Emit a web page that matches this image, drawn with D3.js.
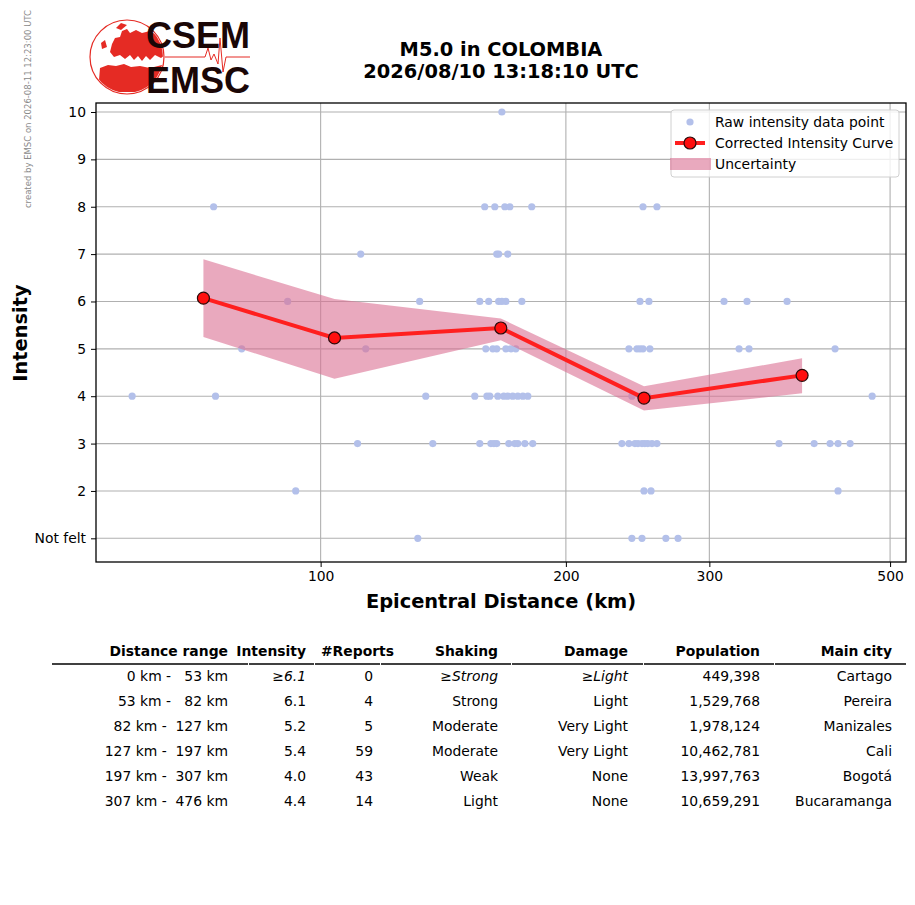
<!DOCTYPE html>
<html>
<head>
<meta charset="utf-8">
<script src="https://cdn.jsdelivr.net/npm/d3@7"></script>
<style>
  body { margin: 0; background: #fff; }
  text { font-family: "DejaVu Sans", sans-serif; }
</style>
</head>
<body>
<div class="container"></div>
<script>
// raw felt reports: distance (km) and intensity (1 = not felt)
const rawDistance = [
  166.9,
  73.9, 159.0, 163.6, 168.3, 170.7, 181.6, 248.7, 258.7,
  112.0, 164.5, 165.4, 169.7,
  91.1, 132.3, 156.8, 160.8, 165.4, 166.9, 168.8, 176.6, 246.6, 252.9, 312.7, 333.7, 373.7,
  80.0, 113.6, 159.5, 162.7, 164.5, 168.8, 171.2, 173.6, 239.0, 244.5, 246.6, 248.7, 253.6, 326.3, 335.6, 428.0,
  58.7, 74.3, 134.6, 154.6, 160.0, 161.3, 165.0, 167.8, 169.7, 172.1, 174.6, 177.1, 179.6, 241.0, 246.6, 252.1, 475.3,
  111.0, 137.3, 156.8, 161.8, 163.2, 164.5, 170.2, 173.1, 174.6, 178.1, 182.1, 234.3, 239.0, 243.1, 245.2, 248.0, 250.0, 252.1, 255.1, 258.7, 365.3, 403.4, 422.0, 431.6, 446.6,
  93.2, 249.4, 254.4, 431.6,
  131.6, 241.0, 248.0, 265.3, 274.6
]
const rawIntensity = [
  10,
  8, 8, 8, 8, 8, 8, 8, 8,
  7, 7, 7, 7,
  6, 6, 6, 6, 6, 6, 6, 6, 6, 6, 6, 6, 6,
  5, 5, 5, 5, 5, 5, 5, 5, 5, 5, 5, 5, 5, 5, 5, 5,
  4, 4, 4, 4, 4, 4, 4, 4, 4, 4, 4, 4, 4, 4, 4, 4, 4,
  3, 3, 3, 3, 3, 3, 3, 3, 3, 3, 3, 3, 3, 3, 3, 3, 3, 3, 3, 3, 3, 3, 3, 3, 3,
  2, 2, 2, 2,
  1, 1, 1, 1, 1
]

// corrected curve and its uncertainty band
const curveDistance = [71.8, 104.0, 166.4, 249.4, 389.9]
const curveIntensity = [6.07, 5.23, 5.44, 3.96, 4.44]
const curveUpper = [6.89, 6.05, 5.64, 4.21, 4.80]
const curveLower = [5.25, 4.37, 5.18, 3.70, 4.06]

const xTicks = [100, 200, 300, 500]
const yTicks = [1, 2, 3, 4, 5, 6, 7, 8, 9, 10]
const yTickLabels = ['Not felt', '2', '3', '4', '5', '6', '7', '8', '9', '10']

// summary table
const tableHeaders = ['Distance range', 'Intensity', '#Reports', 'Shaking', 'Damage', 'Population', 'Main city']
const distanceRanges = ['0 km -   53 km', '53 km -   82 km', '82 km -  127 km', '127 km -  197 km', '197 km -  307 km', '307 km -  476 km']
const intensities = ['≥6.1', '6.1', '5.2', '5.4', '4.0', '4.4']
const reports = ['0', '4', '5', '59', '43', '14']
const shaking = ['≥Strong', 'Strong', 'Moderate', 'Moderate', 'Weak', 'Light']
const damage = ['≥Light', 'Light', 'Very Light', 'Very Light', 'None', 'None']
const population = ['449,398', '1,529,768', '1,978,124', '10,462,781', '13,997,763', '10,659,291']
const mainCity = ['Cartago', 'Pereira', 'Manizales', 'Cali', 'Bogotá', 'Bucaramanga']

const container = d3.select('.container')
const svg = container.append('svg').attr('width', 915).attr('height', 905)

var plotLeft = 96, plotRight = 906, plotTop = 103, plotBottom = 562
var small = '13.9px', big = '19.4px'

var x = d3.scaleLog().domain([53, 523]).range([plotLeft, plotRight])
var y = d3.scaleLinear().domain([0.5, 10.19]).range([plotBottom, plotTop])

// watermark
svg.append('text')
  .attr('transform', 'translate(31,10) rotate(-90)')
  .attr('text-anchor', 'end')
  .style('font-size', '8.5px')
  .attr('fill', '#8a8a8a')
  .text('created by EMSC on 2026-08-11 12:23:00 UTC')

// logo
var logo = svg.append('g')
logo.append('clipPath').attr('id', 'globe')
  .append('circle').attr('cx', 127).attr('cy', 57).attr('r', 36)
logo.append('circle').attr('cx', 127).attr('cy', 57).attr('r', 37)
  .attr('fill', '#fff').attr('stroke', '#e52b24').attr('stroke-width', 1.2)
var land = logo.append('g').attr('clip-path', 'url(#globe)').attr('fill', '#e52b24')
land.append('path').attr('d', 'M112,44 L115,38 L120,37 L122,31 L127,29 L130,33 L136,30 L142,33 L150,31 L158,36 L164,42 L166,54 L161,58 L155,55 L150,60 L146,56 L142,61 L138,56 L134,60 L130,55 L125,59 L120,55 L114,57 L110,52 Z')
land.append('path').attr('d', 'M100,68 L108,65 L116,66 L124,64 L131,67 L140,66 L150,68 L158,66 L166,64 L166,92 L104,92 L99,80 Z')
land.append('path').attr('d', 'M101,43 L105,40 L107,47 L102,49 Z')
land.append('path').attr('d', 'M116,28 L121,23 L127,25 L121,30 Z')
logo.append('polyline')
  .attr('points', '165,57 205,57 208,48 211,60 214,54 218,64 220,38 223,72 226,57 250,57')
  .attr('fill', 'none').attr('stroke', '#e52b24').attr('stroke-width', 1)
logo.append('text').attr('x', 146).attr('y', 48)
  .style('font-family', '"Liberation Sans", Arial, sans-serif')
  .style('font-weight', 'bold').style('font-size', '36px')
  .attr('fill', '#1a0606').text('CSEM')
logo.append('text').attr('x', 146).attr('y', 93)
  .style('font-family', '"Liberation Sans", Arial, sans-serif')
  .style('font-weight', 'bold').style('font-size', '36px')
  .attr('fill', '#1a0606').text('EMSC')

// title
svg.append('text').attr('x', 501).attr('y', 56)
  .attr('text-anchor', 'middle').style('font-weight', 'bold').style('font-size', big)
  .text('M5.0 in COLOMBIA')
svg.append('text').attr('x', 501).attr('y', 78)
  .attr('text-anchor', 'middle').style('font-weight', 'bold').style('font-size', big)
  .text('2026/08/10 13:18:10 UTC')

// grid
var grid = svg.append('g').attr('stroke', '#b0b0b0').attr('stroke-width', 1.1)
grid.selectAll('.gx').data(xTicks).enter().append('line')
  .attr('x1', d => x(d)).attr('x2', d => x(d)).attr('y1', plotTop).attr('y2', plotBottom)
grid.selectAll('.gy').data(yTicks).enter().append('line')
  .attr('x1', plotLeft).attr('x2', plotRight).attr('y1', d => y(d)).attr('y2', d => y(d))

// raw points
svg.append('g').selectAll('circle')
  .data(rawDistance)
  .enter().append('circle')
    .attr('cx', d => x(d))
    .attr('cy', (d, i) => y(rawIntensity[i]))
    .attr('r', 3.6)
    .attr('fill', '#b3c0ea')

// uncertainty band
var band = d3.area()
  .x(d => x(curveDistance[d]))
  .y0(d => y(curveLower[d]))
  .y1(d => y(curveUpper[d]))
svg.append('path').datum(d3.range(curveDistance.length))
  .attr('d', band)
  .attr('fill', '#db7093').attr('opacity', 0.6)

// corrected curve
var line = d3.line().x(d => x(curveDistance[d])).y(d => y(curveIntensity[d]))
svg.append('path').datum(d3.range(curveDistance.length))
  .attr('d', line)
  .attr('fill', 'none').attr('stroke', '#ff1f1f').attr('stroke-width', 4)
svg.append('g').selectAll('circle')
  .data(curveDistance)
  .enter().append('circle')
    .attr('cx', d => x(d))
    .attr('cy', (d, i) => y(curveIntensity[i]))
    .attr('r', 6)
    .attr('fill', '#ff0f0f').attr('stroke', '#2a0a0a').attr('stroke-width', 1.2)

// axes
var xAxis = d3.axisBottom(x).tickValues(xTicks).tickFormat(d3.format('d')).tickSizeOuter(0).tickSize(5).tickPadding(4)
var gx = svg.append('g').attr('transform', `translate(0,${plotBottom})`).call(xAxis)
gx.select('.domain').remove()
gx.selectAll('text').style('font-family', '"DejaVu Sans", sans-serif')
  .style('font-size', small).attr('fill', '#000')

var yAxis = d3.axisLeft(y).tickValues(yTicks).tickFormat((d, i) => yTickLabels[i]).tickSizeOuter(0).tickSize(5).tickPadding(5)
var gy = svg.append('g').attr('transform', `translate(${plotLeft},0)`).call(yAxis)
gy.select('.domain').remove()
gy.selectAll('text').style('font-family', '"DejaVu Sans", sans-serif').style('font-size', small).attr('fill', '#000')

svg.append('rect').attr('x', plotLeft).attr('y', plotTop)
  .attr('width', plotRight - plotLeft).attr('height', plotBottom - plotTop)
  .attr('fill', 'none').attr('stroke', '#000').attr('stroke-width', 1.3)

svg.append('text').attr('x', 501).attr('y', 608)
  .attr('text-anchor', 'middle')
  .style('font-weight', 'bold').style('font-size', big)
  .text('Epicentral Distance (km)')
svg.append('text').attr('transform', 'translate(27,333) rotate(-90)')
  .attr('text-anchor', 'middle').style('font-weight', 'bold').style('font-size', big)
  .text('Intensity')

// legend
var legend = svg.append('g')
legend.append('rect').attr('x', 671).attr('y', 110).attr('width', 228).attr('height', 67)
  .attr('rx', 3).attr('fill', '#fff').attr('fill-opacity', 0.8).attr('stroke', '#d0d0d0')
legend.append('circle').attr('cx', 690).attr('cy', 122).attr('r', 3.6).attr('fill', '#b3c0ea')
legend.append('line').attr('x1', 675).attr('x2', 705).attr('y1', 143).attr('y2', 143)
  .attr('stroke', '#ff1f1f').attr('stroke-width', 4)
legend.append('circle').attr('cx', 690).attr('cy', 143).attr('r', 6)
  .attr('fill', '#ff0f0f').attr('stroke', '#2a0a0a').attr('stroke-width', 1.2)
legend.append('rect').attr('x', 670).attr('y', 158).attr('width', 41).attr('height', 12)
  .attr('fill', '#db7093').attr('opacity', 0.6)
var legendLabels = ['Raw intensity data point', 'Corrected Intensity Curve', 'Uncertainty']
legend.selectAll('.lt').data(legendLabels).enter().append('text')
  .attr('x', 715).attr('y', (d, i) => 127 + i * 21)
  .style('font-size', small).text(d => d)

// table
var colRight = [228, 306, 394, 498, 628, 760, 892]
var valueRight = [228, 306, 373, 498, 628, 760, 892]
var colEdges = [52, 248, 314, 380, 511, 643, 774, 906]
var table = svg.append('g')
table.selectAll('.th').data(tableHeaders).enter().append('text')
  .attr('x', (d, i) => colRight[i]).attr('y', 656)
  .attr('text-anchor', 'end').style('font-weight', 'bold').style('font-size', small)
  .text(d => d)
table.selectAll('.hl').data(d3.range(colEdges.length - 1)).enter().append('line')
  .attr('x1', i => colEdges[i] + (i > 0 ? 1 : 0)).attr('x2', i => colEdges[i + 1])
  .attr('y1', 664).attr('y2', 664).attr('stroke', '#000').attr('stroke-width', 1.3)
var columns = [distanceRanges, intensities, reports, shaking, damage, population, mainCity]
columns.forEach((col, c) => {
  table.selectAll('.c' + c).data(col).enter().append('text')
    .attr('x', valueRight[c]).attr('y', (d, i) => 681 + i * 25)
    .attr('text-anchor', 'end').style('font-size', small)
    .style('white-space', 'pre')
    .style('font-style', (d, i) => (i === 0 && (c === 1 || c === 3 || c === 4)) ? 'italic' : 'normal')
    .text(d => d)
})
</script>
</body>
</html>
